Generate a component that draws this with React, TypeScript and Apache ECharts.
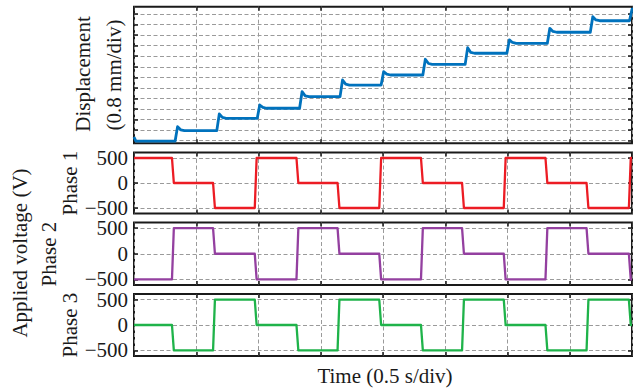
import React, { useEffect, useRef } from "react";
import * as echarts from "echarts";

// ---- data (time in divisions of 0.5 s, displacement in divisions of 0.8 mm) ----
const timeDivisions = [0, 1, 2, 3, 4, 5, 6, 7, 8];
const voltageTicks = [-500, 0, 500];
const displacementGrid = [0, 1, 2, 3, 4, 5, 6, 7, 8, 9, 10, 11, 12];

const switchTimes = [0.61, 1.27, 1.94, 2.61, 3.27, 3.94, 4.61, 5.27, 5.94, 6.61, 7.27, 7.95];
const phase1Levels = [500, 0, -500, 500, 0, -500, 500, 0, -500, 500, 0, -500, 500];
const phase2Levels = [-500, 500, 0, -500, 500, 0, -500, 500, 0, -500, 500, 0, -500];
const phase3Levels = [0, -500, 500, 0, -500, 500, 0, -500, 500, 0, -500, 500, 0];

const dispStepTimes = [0.66, 1.33, 1.98, 2.66, 3.31, 3.97, 4.64, 5.32, 5.99, 6.64, 7.33, 7.96];
const dispLevels = [-0.05, 0.95, 2.12, 3.07, 4.17, 5.27, 6.22, 7.23, 8.28, 9.22, 10.27, 11.36, 12.4];
const dispPeaks = [1.33, 2.53, 3.38, 4.64, 5.75, 6.53, 7.71, 8.81, 9.54, 10.64, 11.74, 12.45];
const dispStart = 0.35;

function stepPoints(levels: number[]): number[][] {
  const pts: number[][] = [[0, levels[0]]];
  switchTimes.forEach((t, i) => {
    pts.push([t, levels[i]]);
    pts.push([t + 0.03, levels[i + 1]]);
  });
  pts.push([8, levels[levels.length - 1]]);
  return pts;
}

function dispPoints(): number[][] {
  const pts: number[][] = [[0, dispStart], [0.03, dispLevels[0]]];
  dispStepTimes.forEach((t, i) => {
    pts.push([t, dispLevels[i]]);
    pts.push([t + 0.04, dispPeaks[i]]);
    pts.push([t + 0.09, dispLevels[i + 1] + 0.08]);
    pts.push([t + 0.15, dispLevels[i + 1]]);
  });
  pts.push([8.2, dispLevels[dispLevels.length - 1]]);
  return pts;
}

const FONT = '"Liberation Serif", "Times New Roman", serif';
const INK = "#1a1a1a";
const GRID_COLOR = "#9a9a9a";

export default function App() {
  const ref = useRef<HTMLDivElement>(null);
  useEffect(() => {
    if (!ref.current) return;
    const chart = echarts.init(ref.current, undefined, { renderer: "svg" });

    const panels = [
      { top: 6.7, height: 136.6, min: -0.25, max: 12.69, ticks: displacementGrid, labels: false },
      { top: 152.5, height: 61, min: -610, max: 610, ticks: voltageTicks, labels: true },
      { top: 222.5, height: 62.5, min: -610, max: 610, ticks: voltageTicks, labels: true },
      { top: 294, height: 62, min: -610, max: 610, ticks: voltageTicks, labels: true },
    ];

    const grids = panels.map((p) => ({
      left: 134,
      width: 498,
      top: p.top,
      height: p.height,
      show: true,
      borderColor: INK,
      borderWidth: 2,
      backgroundColor: "transparent",
    }));

    const xAxis: any[] = [];
    const yAxis: any[] = [];
    panels.forEach((p, gi) => {
      ["bottom", "top"].forEach((pos, k) => {
        xAxis.push({
          type: "value",
          gridIndex: gi,
          position: pos,
          min: timeDivisions[0],
          max: timeDivisions[timeDivisions.length - 1],
          interval: 1,
          axisLine: { show: false, onZero: false },
          axisTick: { show: true, inside: true, length: 4, lineStyle: { color: INK, width: 1.5 } },
          axisLabel: { show: false },
          splitLine: {
            show: k === 0,
            lineStyle: { color: GRID_COLOR, type: [4, 2.5], width: 1 },
          },
        });
      });
      ["left", "right"].forEach((pos, k) => {
        yAxis.push({
          type: "value",
          gridIndex: gi,
          position: pos,
          min: p.min,
          max: p.max,
          axisLine: { show: false, onZero: false },
          axisTick: {
            show: true,
            inside: true,
            length: 4,
            customValues: p.ticks,
            lineStyle: { color: INK, width: 1.5 },
          },
          axisLabel: {
            show: p.labels && k === 0,
            customValues: p.ticks,
            margin: 6,
            fontSize: 21,
            lineHeight: 17,
            fontFamily: FONT,
            color: INK,
            formatter: (v: number) => (v < 0 ? "\u2212" + Math.abs(v) : String(v)),
          },
          splitLine: {
            show: k === 0,
            lineStyle: { color: GRID_COLOR, type: [4, 2.5], width: 1 },
          },
        });
      });
    });

    const seriesDefs = [
      { data: dispPoints(), color: "#0072bd", width: 2.8 },
      { data: stepPoints(phase1Levels), color: "#ec1c24", width: 2.3 },
      { data: stepPoints(phase2Levels), color: "#9440a0", width: 2.3 },
      { data: stepPoints(phase3Levels), color: "#1fb34a", width: 2.3 },
    ];

    const series = seriesDefs.map((s, i) => ({
      type: "line",
      xAxisIndex: i * 2,
      yAxisIndex: i * 2,
      data: s.data,
      showSymbol: false,
      symbol: "none",
      clip: true,
      z: 3,
      lineStyle: { color: s.color, width: s.width, join: "round" },
    }));

    const vText = (text: string, x: number, y: number) => ({
      type: "text",
      x,
      y,
      rotation: Math.PI / 2,
      style: {
        text,
        fontSize: 21,
        fontFamily: FONT,
        fill: INK,
        textAlign: "center",
        textVerticalAlign: "middle",
        align: "center",
        verticalAlign: "middle",
      },
    });

    chart.setOption({
      animation: false,
      backgroundColor: "#ffffff",
      grid: grids,
      xAxis,
      yAxis,
      series,
      graphic: [
        vText("Displacement", 83, 74),
        vText("(0.8 mm/div)", 114, 75),
        vText("Applied voltage (V)", 20, 253),
        vText("Phase 1", 70, 183),
        vText("Phase 2", 49, 254),
        vText("Phase 3", 70, 325),
        {
          type: "text",
          x: 385,
          y: 376,
          style: {
            text: "Time (0.5 s/div)",
            fontSize: 21,
            fontFamily: FONT,
            fill: INK,
            textAlign: "center",
            textVerticalAlign: "middle",
            align: "center",
            verticalAlign: "middle",
          },
        },
      ],
    });

    return () => chart.dispose();
  }, []);

  return (
    <div
      ref={ref}
      style={{ position: "fixed", left: 0, top: 0, width: 633, height: 392, background: "#fff" }}
    />
  );
}
